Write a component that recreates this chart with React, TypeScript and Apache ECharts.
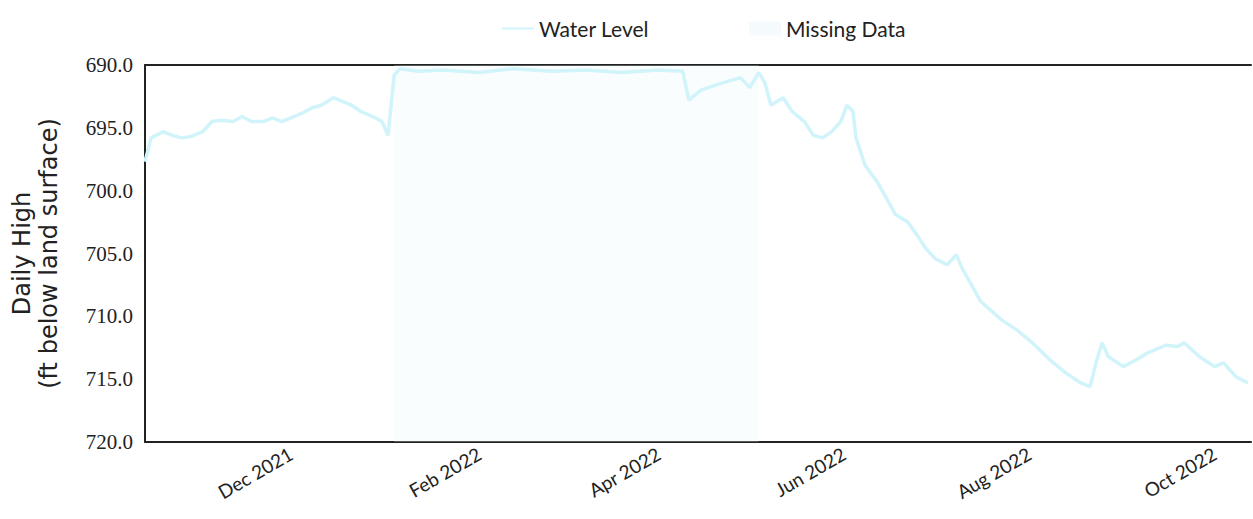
import React, { useEffect, useRef } from "react";
import * as echarts from "echarts";

const dates: string[] = [
  "2021-10-14", "2021-10-16", "2021-10-20", "2021-10-23", "2021-10-26", "2021-10-29",
  "2021-11-02", "2021-11-05", "2021-11-08", "2021-11-12", "2021-11-15", "2021-11-18",
  "2021-11-22", "2021-11-25", "2021-11-28", "2021-12-01", "2021-12-05", "2021-12-08",
  "2021-12-11", "2021-12-15", "2021-12-18", "2021-12-21", "2021-12-24", "2021-12-28",
  "2021-12-31", "2022-01-02", "2022-01-03", "2022-01-04", "2022-01-06", "2022-01-12",
  "2022-01-20", "2022-02-01", "2022-02-12", "2022-02-25", "2022-03-08", "2022-03-20",
  "2022-04-01", "2022-04-09", "2022-04-11", "2022-04-15", "2022-04-21", "2022-04-28",
  "2022-05-01", "2022-05-04", "2022-05-06", "2022-05-08", "2022-05-12", "2022-05-15",
  "2022-05-19", "2022-05-22", "2022-05-25", "2022-05-28", "2022-05-31", "2022-06-02",
  "2022-06-04", "2022-06-05", "2022-06-08", "2022-06-12", "2022-06-15", "2022-06-18",
  "2022-06-22", "2022-06-25", "2022-06-28", "2022-07-01", "2022-07-05", "2022-07-08",
  "2022-07-10", "2022-07-13", "2022-07-16", "2022-07-23", "2022-07-28", "2022-08-02",
  "2022-08-08", "2022-08-13", "2022-08-18", "2022-08-21", "2022-08-23", "2022-08-25",
  "2022-08-27", "2022-09-01", "2022-09-05", "2022-09-09", "2022-09-15", "2022-09-19",
  "2022-09-21", "2022-09-26", "2022-10-01", "2022-10-04", "2022-10-08", "2022-10-12",
];

const levels: number[] = [
  697.7, 695.8, 695.3, 695.6, 695.8, 695.7,
  695.3, 694.5, 694.4, 694.5, 694.1, 694.5,
  694.5, 694.2, 694.5, 694.2, 693.8, 693.4,
  693.2, 692.6, 692.9, 693.2, 693.7, 694.1,
  694.5, 695.6, 693.2, 690.8, 690.3, 690.5,
  690.4, 690.6, 690.3, 690.5, 690.4, 690.6,
  690.4, 690.5, 692.8, 692.0, 691.5, 691.0,
  691.8, 690.6, 691.4, 693.2, 692.6, 693.7,
  694.5, 695.6, 695.8, 695.3, 694.5, 693.2,
  693.7, 695.8, 698.0, 699.3, 700.6, 701.9,
  702.5, 703.5, 704.6, 705.4, 705.9, 705.1,
  706.2, 707.5, 708.8, 710.3, 711.1, 712.1,
  713.5, 714.5, 715.3, 715.6, 713.7, 712.1,
  713.2, 714.0, 713.5, 712.9, 712.3, 712.4,
  712.1, 713.2, 714.0, 713.7, 714.8, 715.3,
];

const missingStart = "2022-01-04";
const missingEnd = "2022-05-04";
const axisMin = "2021-10-14";
const axisMax = "2022-10-13";
const yTicks: number[] = [690, 695, 700, 705, 710, 715, 720];
const labelMonths: number[] = [1, 3, 5, 7, 9, 11];
const monthNames: string[] = ["Jan", "Feb", "Mar", "Apr", "May", "Jun", "Jul", "Aug", "Sep", "Oct", "Nov", "Dec"];

export default function App() {
  const ref = useRef<HTMLDivElement>(null);
  useEffect(() => {
    if (!ref.current) return;
    const chart = echarts.init(ref.current, undefined, { renderer: "svg" });
    const seriesData = dates.map((d, i) => [d, levels[i]]);
    chart.setOption({
      animation: false,
      backgroundColor: "#ffffff",
      legend: {
        left: 497,
        top: 13,
        itemWidth: 32,
        itemHeight: 14,
        itemGap: 100,
        textStyle: { fontFamily: "Lato", fontSize: 21, color: "#222" },
        data: [
          { name: "Water Level", icon: "path://M0,6 L32,6 L32,8 L0,8 Z", itemStyle: { color: "#d0f4fa" } },
          { name: "Missing Data", icon: "rect", itemStyle: { color: "#f5fafd" } },
        ],
      },
      grid: { left: 143, right: 2, top: 65, bottom: 77, containLabel: false },
      xAxis: [
        {
          type: "time",
          min: axisMin,
          max: axisMax,
          minInterval: 28 * 86400000,
          maxInterval: 31 * 86400000,
          axisLine: { show: true, onZero: false, lineStyle: { color: "#222", width: 2 } },
          axisTick: { show: false },
          splitLine: { show: false },
          axisLabel: {
            rotate: 30,
            margin: 10,
            fontFamily: "Lato",
            fontSize: 19,
            color: "#222",
            hideOverlap: false,
            formatter: (v: number) => {
              const d = new Date(v);
              if (d.getUTCDate() !== 1) return "";
              const m = d.getUTCMonth();
              if (labelMonths.indexOf(m) < 0) return "";
              return monthNames[m] + " " + d.getUTCFullYear();
            },
          },
        },
        {
          type: "time",
          position: "top",
          min: axisMin,
          max: axisMax,
          axisLine: { show: true, onZero: false, lineStyle: { color: "#222", width: 2 } },
          axisTick: { show: false },
          axisLabel: { show: false },
          splitLine: { show: false },
        },
      ],
      yAxis: {
        type: "value",
        inverse: true,
        min: yTicks[0],
        max: yTicks[yTicks.length - 1],
        interval: 5,
        name: "Daily High\n(ft below land surface)",
        nameLocation: "middle",
        nameRotate: 90,
        nameGap: 83,
        nameMoveOverlap: false,
        nameTextStyle: { fontFamily: "DejaVu Sans", fontSize: 24, color: "#222", lineHeight: 27 },
        axisLine: { show: true, lineStyle: { color: "#222", width: 2 } },
        axisTick: { show: false },
        splitLine: { show: false },
        axisLabel: {
          margin: 12,
          fontFamily: "Liberation Serif",
          fontSize: 21,
          color: "#222",
          formatter: (v: number) => v.toFixed(1),
        },
      },
      series: [
        {
          name: "Missing Data",
          type: "line",
          data: [],
          itemStyle: { color: "#f5fafd" },
          markArea: {
            silent: true,
            itemStyle: { color: "rgba(235,246,252,0.25)" },
            data: [[{ xAxis: missingStart }, { xAxis: missingEnd }]],
          },
        },
        {
          name: "Water Level",
          type: "line",
          data: seriesData,
          showSymbol: false,
          symbol: "none",
          clip: true,
          lineStyle: { color: "#d0f4fa", width: 3.5 },
          itemStyle: { color: "#d0f4fa" },
        },
      ],
    });
    return () => chart.dispose();
  }, []);
  return (
    <div
      ref={ref}
      style={{ position: "fixed", left: 0, top: 0, width: 1253, height: 519 }}
    />
  );
}
